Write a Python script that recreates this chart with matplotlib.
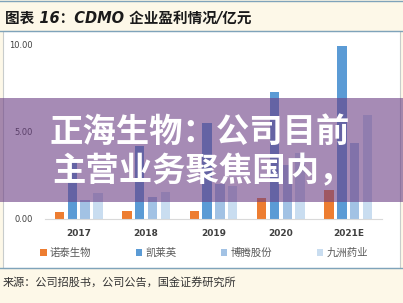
import numpy as np
import matplotlib
matplotlib.use("Agg")
from matplotlib import pyplot as plt
from matplotlib.patches import Rectangle

plt.rcParams['font.family'] = ['DejaVu Sans', 'Noto Sans CJK SC']

# data (亿元)
years = ['2017', '2018', '2019', '2020', '2021E']
nuotai = [0.40, 0.45, 0.45, 1.20, 1.65]
kailaiying = [3.40, 4.20, 5.50, 7.25, 9.90]
boteng = [1.10, 1.25, 2.00, 3.10, 4.35]
jiuzhou = [1.50, 1.55, 1.90, 3.75, 5.95]
names = ['诺泰生物', '凯莱英', '博腾股份', '九洲药业']
colors = ['#ED7D31', '#5B9BD5', '#A2C2E4', '#C9DDF0']

W, H = 403, 303
fig = plt.figure(figsize=(W / 100, H / 100), dpi=100)
fig.patch.set_facecolor('#FDF8E8')

def fx(px):
    return px / W

def fy(py):
    return 1 - py / H

# white chart panel and frame lines
fig.patches.append(Rectangle((fx(3), fy(268)), fx(397), (268 - 31) / H, transform=fig.transFigure,
                             facecolor='white', edgecolor='#C8CCCC', lw=0.8, zorder=-2))
for yy in (1, 31, 268):
    fig.add_artist(plt.Line2D([0, 1], [fy(yy), fy(yy)], transform=fig.transFigure,
                              color='#7FA3BA', lw=1.0, zorder=-1))

fig.text(fx(5), fy(18), '图表 16：CDMO 企业盈利情况/亿元', fontsize=10.5, style='italic',
         weight='bold', color='#1A1A1A', va='center', ha='left',
         family=['DejaVu Sans', 'Noto Sans CJK SC'])

ax = fig.add_axes([fx(45), fy(219), fx(337), (219 - 44) / H])
ax.set_facecolor('none')
x = np.arange(len(years))
width = 0.14
series = [nuotai, kailaiying, boteng, jiuzhou]
offsets = [-0.285, -0.095, 0.095, 0.285]
handles = []
for vals, off, c, n in zip(series, offsets, colors, names):
    b = ax.bar(x + off, vals, width, color=c, label=n, zorder=2)
    handles.append(b)

ax.set_xlim(-0.5, len(years) - 0.5)
ax.set_ylim(0, 10)
ax.set_yticks([0, 5, 10])
ax.set_yticklabels(['0.00', '5.00', '10.00'])
ax.set_xticks(x)
ax.set_xticklabels(years)
for s in ['top', 'right', 'left']:
    ax.spines[s].set_visible(False)
ax.spines['bottom'].set_color('#D9D9D9')
ax.tick_params(axis='y', length=0, pad=8.5, labelsize=6, labelcolor='#404040')
ax.tick_params(axis='x', length=0, pad=7, labelsize=6.5, labelcolor='#404040')
for t in ax.get_xticklabels():
    t.set_fontweight('bold')

leg = fig.legend(handles=handles, labels=names, loc='center', bbox_to_anchor=(fx(204), fy(253)),
                 ncol=4, frameon=False, handlelength=0.6, handleheight=0.6,
                 handletextpad=0.3, columnspacing=4.3, labelcolor='#595959',
                 prop={'family': ['Noto Sans CJK SC'], 'size': 7.5})

fig.text(fx(3), fy(282), '来源：公司招股书，公司公告，国金证券研究所', fontsize=8,
         color='#333333', va='center', ha='left', family=['Noto Sans CJK SC'])

# purple overlay band with headline
fig.patches.append(Rectangle((0, fy(202)), 1, (202 - 98) / H, transform=fig.transFigure,
                             facecolor='#6B3E84', alpha=0.6, edgecolor='none', zorder=10))
fig.text(fx(200), fy(132), '正海生物：公司目前', fontsize=24, weight='heavy', color='white',
         ha='center', va='center', family=['Noto Sans CJK SC'], zorder=11)
fig.text(fx(202), fy(172), '主营业务聚焦国内，', fontsize=24, weight='heavy', color='white',
         ha='center', va='center', family=['Noto Sans CJK SC'], zorder=11)

fig.savefig('out.png', dpi=100, facecolor=fig.get_facecolor())
